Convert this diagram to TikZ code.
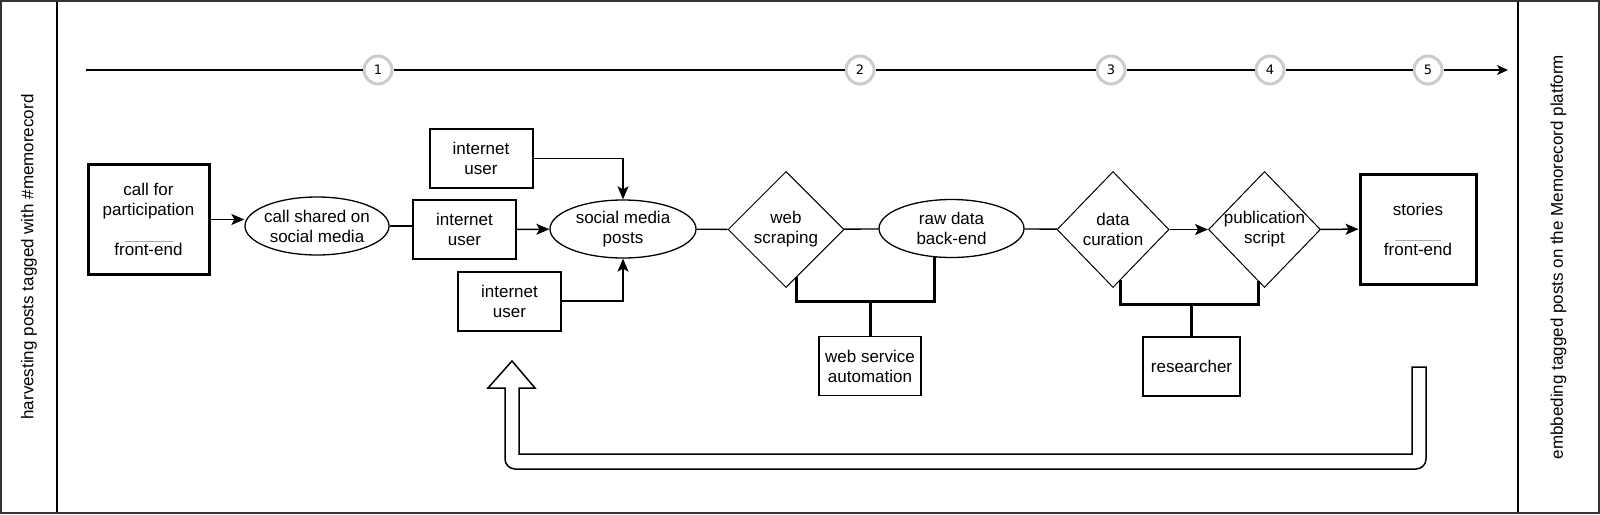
\documentclass[tikz,border=0pt]{standalone}
\usepackage{fontspec}
\setmainfont{Liberation Sans}
\newfontfamily\numfont{DejaVu Sans}
\usepackage{xcolor}
\usepackage{tikz}
\usetikzlibrary{positioning,shapes.geometric,arrows.meta}

\definecolor{ringgray}{RGB}{204,204,204}
\definecolor{rulegray}{RGB}{170,170,170}
\newcommand{\sepline}[1]{{\color{rulegray}\rule{#1}{0.8pt}}}

\begin{document}
\begin{tikzpicture}[
  x=1pt, y=-1pt,
  every node/.style={font=\fontsize{17}{20}\selectfont, align=center, inner sep=0pt},
  user/.style={draw, line width=2pt, minimum width=103pt, minimum height=59pt},
  actor/.style={draw, line width=1.3pt, minimum width=#1, minimum height=59pt},
  endpoint/.style={draw, line width=3pt, minimum width=#1, minimum height=110pt},
  oval/.style={draw, ellipse, line width=1.3pt, minimum width=#1, minimum height=58pt, inner sep=-2pt},
  choice/.style={draw, diamond, line width=1pt, minimum width=#1, minimum height=116pt, inner sep=-4pt},
  stage/.style={circle, draw=ringgray, line width=3pt, fill=white, minimum size=28pt, font=\numfont\fontsize{13}{13}\selectfont},
  lane/.style={draw, line width=2pt, rotate=90, minimum width=512pt, minimum height=#1},
  arr/.style={->, >={Stealth[length=13pt, width=11pt, inset=3pt]}, line width=1.5pt},
  link/.style={line width=1.4pt},
  bracket/.style={line width=3pt},
  loopback/.style={draw, line width=1.5pt, fill=white}
]
  \useasboundingbox (0,0) rectangle (1600,514);

  % ===== SWIM LANES =====
  \node[lane=56pt] (harvest) at (29,257) {harvesting posts tagged with \#memorecord};
  \node[lane=81pt] (embed) at (1558.5,257) {embbeding tagged posts on the Memorecord platform};
  \draw[line width=2pt, black!80] (1,1) rectangle (1599,513);

  % ===== TIMELINE =====
  \coordinate (t0) at (86,70);
  \coordinate (tend) at (1508,70);
  \node[stage] (s1) at (378,70) {1};
  \node[stage] (s2) at (860,70) {2};
  \node[stage] (s3) at (1111,70) {3};
  \node[stage] (s4) at (1270,70) {4};
  \node[stage] (s5) at (1428,70) {5};

  \draw[line width=1.6pt] (t0) -- (s1) -- (s2) -- (s3) -- (s4) -- (s5);
  \draw[->, >={Stealth[length=11pt, width=10pt, inset=3pt]}, line width=1.6pt] (s5) -- (tend);

  % ===== HARVESTING =====
  \node[endpoint=121pt] (call) at (148.5,219.5) {call for\\participation\\[6pt]\sepline{48pt}\\[-6pt]front-end};
  \node[oval=144pt] (shared) at (317,226) {call shared on\\social media};

  % internet users
  \node[user] (user1) at (481,158.5) {internet\\user};
  \node[user] (user2) at (464.5,229.5) {internet\\user};
  \node[user] (user3) at (509.5,301) {internet\\user};

  \node[oval=146pt] (posts) at (623,229) {social media\\posts};

  \draw[arr] (call.east) -- (call.east -| shared.west);
  \draw[link] (shared.east) -- (shared.east -| user2.west);
  \draw[arr] (user1.east) -| (posts.north);
  \draw[arr] (user2) -- (posts);
  \draw[arr] (user3.east) -| (posts.south);

  % ===== PROCESSING =====
  \node[choice=116pt] (scrape) at (786,229.5) {web\\scraping};
  \node[oval=145pt] (raw) at (951.5,228.5) {raw data\\back-end};
  \node[actor=102pt] (service) at (870,366) {web service\\automation};

  \node[choice=112pt] (curate) at (1113,229.5) {data\\curation};
  \node[choice=112pt] (publish) at (1264.5,229.5) {publication\\script};
  \node[actor=97pt] (researcher) at (1191.5,366.5) {researcher};

  \node[endpoint=116pt] (stories) at (1418,229) {stories\\[6pt]\sepline{46pt}\\[-6pt]front-end};

  \draw[link] (posts) -- (scrape);
  \draw[link] (scrape) -- (raw);
  \draw[link] (raw) -- (curate);
  \draw[arr] (curate) -- (publish);
  \draw[arr] (publish) -- (stories);

  % who runs which step
  \draw[bracket] (scrape.-77) -- ++(0,24) coordinate (join1) -| (raw.240);
  \draw[bracket] (service.north) -- (service.north |- join1);
  \draw[bracket] (curate.-81) -- ++(0,25) coordinate (join2) -| (publish.-97);
  \draw[bracket] (researcher.north) -- (researcher.north |- join2);

  % ===== FEEDBACK LOOP =====
  \path[loopback] (1412,367) -- (1426,367) [rounded corners=10pt] -- (1426,469) -- (505,469)
    [sharp corners] -- (505,388) -- (488,388) -- (512,361) -- (535,388) -- (519,388)
    -- (519,454) -- (1412,454) -- cycle;
\end{tikzpicture}
\end{document}
